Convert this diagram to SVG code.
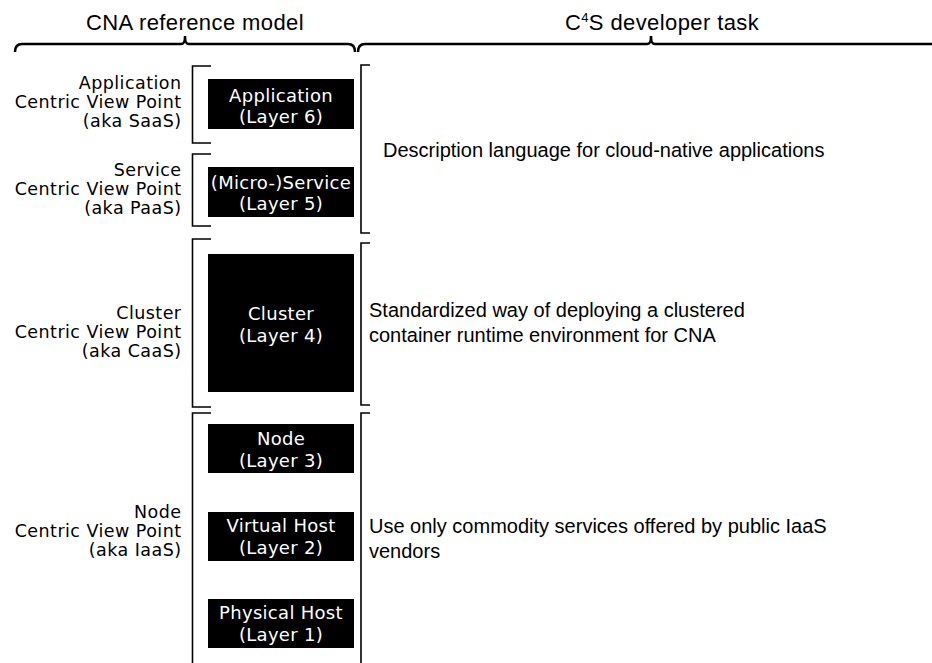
<svg xmlns="http://www.w3.org/2000/svg" width="932" height="663" viewBox="0 0 932 663">
<style>
.hdr{font-family:"Liberation Sans",Arial,sans-serif;font-size:22px;letter-spacing:0.4px;fill:#000}
.task{font-family:"Liberation Sans",Arial,sans-serif;font-size:20px;fill:#000}
.vp{font-family:"DejaVu Sans",Verdana,sans-serif;font-size:17.5px;letter-spacing:0.45px;fill:#000;text-anchor:end}
.box{fill:#000}
.bt{font-family:"DejaVu Sans",Verdana,sans-serif;font-size:18px;letter-spacing:0.3px;fill:#fff;text-anchor:middle}
.brace{fill:none;stroke:#000;stroke-width:2.5}
.brk{fill:none;stroke:#000;stroke-width:1.6}
</style>
<rect width="932" height="663" fill="#fff"/>

<g id="headers">
  <text class="hdr" x="195" y="30" text-anchor="middle">CNA reference model</text>
  <text class="hdr" x="662" y="30" text-anchor="middle">C<tspan font-size="13" dy="-8">4</tspan><tspan dy="8">S developer task</tspan></text>
  <path class="brace" d="M15,52 C15,47 17,44 22,44 L181,44 C184,44 185,42 185,36 C185,42 186,44 189,44 L348,44 C353,44 355,47 355,52"/>
  <path class="brace" d="M358,52 C358,47 360,44 365,44 L647,44 C650,44 651,42 651,36 C651,42 652,44 655,44 L940,44"/>
</g>

<g id="connectors">
  <path class="brk" d="M211,66 L192.5,66 L192.5,143 L211,143"/>
  <path class="brk" d="M211,154 L192.5,154 L192.5,226 L211,226"/>
  <path class="brk" d="M211,239 L192.5,239 L192.5,407 L211,407"/>
  <path class="brk" d="M211,413 L192.5,413 L192.5,670"/>
  <path class="brk" d="M370,65 L361,65 L361,233 L370,233"/>
  <path class="brk" d="M370,243 L361,243 L361,405 L370,405"/>
  <path class="brk" d="M370,413 L361,413 L361,670"/>
</g>

<g id="vp-saas">
  <text class="vp" x="181.5" y="89">Application</text>
  <text class="vp" x="181.5" y="108">Centric View Point</text>
  <text class="vp" x="181.5" y="127">(aka SaaS)</text>
</g>
<g id="vp-paas">
  <text class="vp" x="181.5" y="176">Service</text>
  <text class="vp" x="181.5" y="195">Centric View Point</text>
  <text class="vp" x="181.5" y="214">(aka PaaS)</text>
</g>
<g id="vp-caas">
  <text class="vp" x="181.5" y="319">Cluster</text>
  <text class="vp" x="181.5" y="338">Centric View Point</text>
  <text class="vp" x="181.5" y="357">(aka CaaS)</text>
</g>
<g id="vp-iaas">
  <text class="vp" x="181.5" y="518">Node</text>
  <text class="vp" x="181.5" y="537">Centric View Point</text>
  <text class="vp" x="181.5" y="556">(aka IaaS)</text>
</g>

<g id="layer6">
  <rect class="box" x="208" y="79" width="146" height="50"/>
  <text class="bt" x="281" y="102">Application</text>
  <text class="bt" x="281" y="123">(Layer 6)</text>
</g>
<g id="layer5">
  <rect class="box" x="208" y="167" width="146" height="50"/>
  <text class="bt" x="281" y="189">(Micro-)Service</text>
  <text class="bt" x="281" y="210">(Layer 5)</text>
</g>
<g id="layer4">
  <rect class="box" x="208" y="254" width="146" height="138"/>
  <text class="bt" x="281" y="320">Cluster</text>
  <text class="bt" x="281" y="342">(Layer 4)</text>
</g>
<g id="layer3">
  <rect class="box" x="208" y="424" width="146" height="49"/>
  <text class="bt" x="281" y="445">Node</text>
  <text class="bt" x="281" y="467">(Layer 3)</text>
</g>
<g id="layer2">
  <rect class="box" x="208" y="512" width="146" height="49"/>
  <text class="bt" x="281" y="532">Virtual Host</text>
  <text class="bt" x="281" y="554">(Layer 2)</text>
</g>
<g id="layer1">
  <rect class="box" x="208" y="599" width="146" height="49"/>
  <text class="bt" x="281" y="619">Physical Host</text>
  <text class="bt" x="281" y="641">(Layer 1)</text>
</g>

<g id="task-description">
  <text class="task" x="383" y="157">Description language for cloud-native applications</text>
</g>
<g id="task-cluster">
  <text class="task" x="369" y="317">Standardized way of deploying a clustered</text>
  <text class="task" x="369" y="342">container runtime environment for CNA</text>
</g>
<g id="task-iaas">
  <text class="task" x="369" y="533">Use only commodity services offered by public IaaS</text>
  <text class="task" x="369" y="558">vendors</text>
</g>
</svg>
